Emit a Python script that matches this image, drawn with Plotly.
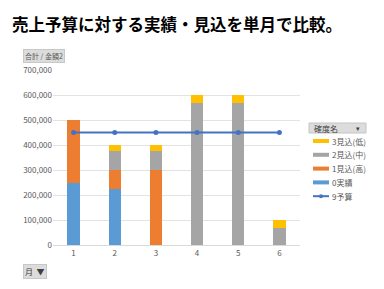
import plotly.graph_objects as go

months = [1, 2, 3, 4, 5, 6]
actual = [250000, 225000, 0, 0, 0, 0]          # 0実績
est_high = [250000, 75000, 300000, 0, 0, 0]    # 1見込(高)
est_mid = [0, 75000, 75000, 570000, 570000, 70000]  # 2見込(中)
est_low = [0, 25000, 25000, 30000, 30000, 30000]    # 3見込(低)
budget = [450000, 450000, 450000, 450000, 450000, 450000]  # 9予算

y_ticks = [0, 100000, 200000, 300000, 400000, 500000, 600000, 700000]
legend_names = ["3見込(低)", "2見込(中)", "1見込(高)", "0実績", "9予算"]

FONT = "Noto Sans CJK JP"
L, R, T, B, W, H = 53, 84, 70, 44, 384, 289
PW, PH = W - L - R, H - T - B

def px(x):
    return (x - L) / PW

def py(y):
    return (H - B - y) / PH

fig = go.Figure()

series = [
    ("0実績", actual, "#5B9BD5"),
    ("1見込(高)", est_high, "#ED7D31"),
    ("2見込(中)", est_mid, "#A5A5A5"),
    ("3見込(低)", est_low, "#FFC000"),
]
colors = {n: c for n, _, c in series}
colors["9予算"] = "#4472C4"
for name, vals, col in series:
    fig.add_trace(go.Bar(x=months, y=vals, name=name, marker_color=col,
                         marker_line_width=0, width=0.3, showlegend=False))

fig.add_trace(go.Scatter(x=months, y=budget, mode="lines+markers", name="9予算",
                         line=dict(color="#4472C4", width=2.2),
                         marker=dict(size=5, color="#4472C4"), showlegend=False))

shapes = []
annotations = [
    dict(text="合計 / 金額2", xref="paper", yref="paper", x=px(23), y=py(56),
         xanchor="left", yanchor="middle", showarrow=False,
         font=dict(size=7, color="#595959"), bgcolor="#dcdcdc",
         bordercolor="#c8c8c8", borderwidth=1, borderpad=1),
    dict(text="月  ▼", xref="paper", yref="paper", x=px(23), y=py(271),
         xanchor="left", yanchor="middle", showarrow=False,
         font=dict(size=8, color="#404040"), bgcolor="#dcdcdc",
         bordercolor="#c8c8c8", borderwidth=1, borderpad=1),
]
# legend header box
shapes.append(dict(type="rect", xref="paper", yref="paper",
                   x0=px(309), x1=px(366), y0=py(133), y1=py(123),
                   fillcolor="#dcdcdc", line=dict(color="#c4c4c4", width=1)))
annotations.append(dict(text="確度名", xref="paper", yref="paper", x=px(312), y=py(128),
                        xanchor="left", yanchor="middle", showarrow=False,
                        font=dict(size=8, color="#404040")))
annotations.append(dict(text="▾", xref="paper", yref="paper", x=px(362), y=py(128),
                        xanchor="right", yanchor="middle", showarrow=False,
                        font=dict(size=7, color="#404040")))
for i, name in enumerate(legend_names):
    yy = 141 + i * 13.8
    col = colors[name]
    w = 2 if name == "9予算" else 4
    shapes.append(dict(type="line", xref="paper", yref="paper",
                       x0=px(313), x1=px(329), y0=py(yy), y1=py(yy),
                       line=dict(color=col, width=w)))
    if name == "9予算":
        shapes.append(dict(type="circle", xref="paper", yref="paper",
                           x0=px(319), x1=px(323), y0=py(yy + 2), y1=py(yy - 2),
                           fillcolor=col, line=dict(color=col, width=0)))
    annotations.append(dict(text=name, xref="paper", yref="paper", x=px(330), y=py(yy),
                            xanchor="left", yanchor="middle", showarrow=False,
                            font=dict(size=8, color="#595959")))

fig.update_layout(
    barmode="stack",
    width=W, height=H,
    margin=dict(l=L, r=R, t=T, b=B, autoexpand=False),
    paper_bgcolor="white", plot_bgcolor="white",
    font=dict(family=FONT, size=8, color="#595959"),
    showlegend=False,
    title=dict(text="<b>売上予算に対する実績・見込を単月で比較。</b>",
               x=12 / W, xanchor="left", y=1 - 25 / H, yanchor="middle",
               font=dict(family=FONT, size=16.5, color="black")),
    xaxis=dict(range=[0.5, 6.5], tickvals=months, showgrid=False,
               showline=True, linecolor="#d9d9d9", linewidth=1,
               ticks="", tickfont=dict(size=8, color="#595959"), zeroline=False),
    yaxis=dict(range=[0, 700000], tickvals=y_ticks, tickformat=",",
               showgrid=True, gridcolor="#e3e3e3", gridwidth=1,
               zeroline=False, ticks="", ticklen=0,
               tickfont=dict(size=8, color="#595959")),
    shapes=shapes,
    annotations=annotations,
)

fig.write_html("out.html")
